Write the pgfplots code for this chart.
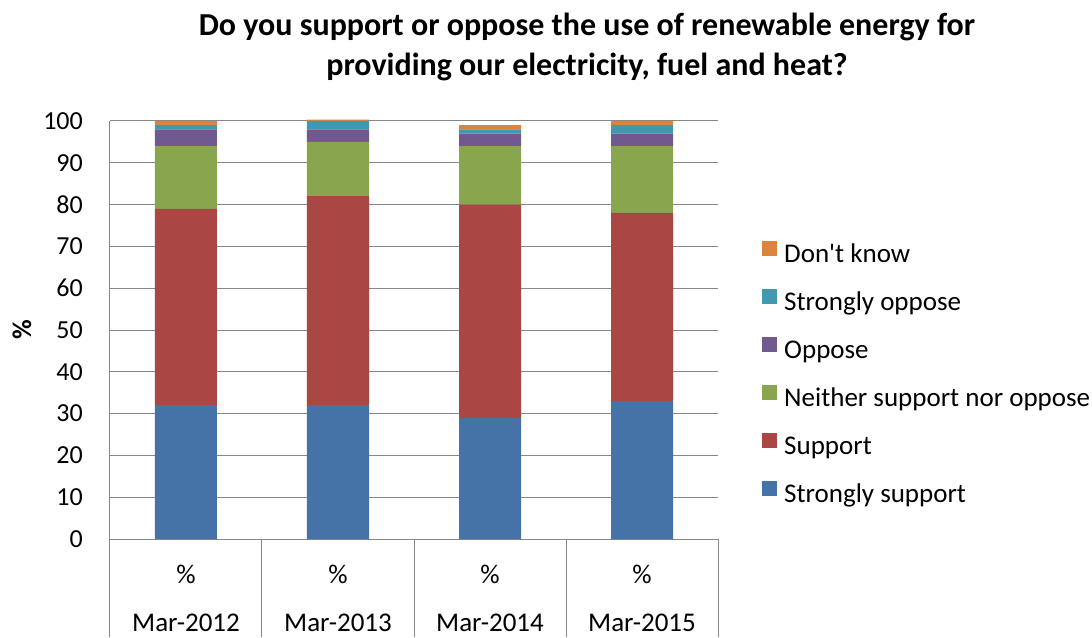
\documentclass[border=0pt]{standalone}
\usepackage{pgfplots}
\pgfplotsset{compat=1.18}
\usepackage{fontspec}
\setmainfont{Carlito}[Ligatures=TeXOff]
\definecolor{cSS}{HTML}{4572A7}
\definecolor{cS}{HTML}{AA4643}
\definecolor{cN}{HTML}{89A54E}
\definecolor{cO}{HTML}{71588F}
\definecolor{cSO}{HTML}{4198AF}
\definecolor{cDK}{HTML}{DB843D}
\definecolor{gridc}{HTML}{878787}
\newcommand{\fs}{\fontsize{27}{32}\selectfont}
\newcommand{\ft}{\fontsize{26}{30}\selectfont}
\begin{document}
\begin{tikzpicture}
\begin{axis}[
  scale only axis, width=608pt, height=418pt,
  ybar stacked, bar width=62pt,
  xmin=-0.5, xmax=3.5, ymin=0, ymax=100,
  xtick=\empty, ytick={0,10,...,100},
  ymajorgrids, grid style={draw=gridc, line width=1pt},
  axis x line*=bottom, axis y line*=left,
  axis line style={draw=gridc, line width=1pt, -},
  major tick length=0pt,
  yticklabel style={font=\ft, anchor=east, inner sep=0pt, xshift=-27pt},
  /pgf/number format/assume math mode=true,
  clip=false,
  title={Do you support or oppose the use of renewable energy for\\providing our electricity, fuel and heat?},
  title style={font=\fontsize{32}{40}\selectfont\bfseries, align=center, at={(axis description cs:0.7845,1.1627)}, anchor=center},
  ylabel={\textbf{\%}},
  ylabel style={font=\fs, at={(axis description cs:-0.1447,0.5)}, anchor=center},
  legend style={at={(axis description cs:1.0724,0.0718)}, anchor=south west, draw=none, fill=none, inner sep=0pt, row sep=20pt, column sep=0pt, font=\fs,
     nodes={inner sep=0pt, text height=18pt, text depth=6pt}},
  legend cell align=left,
  legend image code/.code={\fill[#1] (0pt,1pt) rectangle (15pt,16pt); \path (22pt,0pt);},
  reverse legend,
]
\addplot[fill=cSS, draw=none] coordinates {(0,32) (1,32) (2,29) (3,33)};
\addplot[fill=cS, draw=none] coordinates {(0,47) (1,50) (2,51) (3,45)};
\addplot[fill=cN, draw=none] coordinates {(0,15) (1,13) (2,14) (3,16)};
\addplot[fill=cO, draw=none] coordinates {(0,4) (1,3) (2,3) (3,3)};
\addplot[fill=cSO, draw=none] coordinates {(0,1) (1,2) (2,1) (3,2)};
\addplot[fill=cDK, draw=none] coordinates {(0,1) (1,0.3) (2,1) (3,1)};
\legend{Strongly support, Support, Neither support nor oppose, Oppose, Strongly oppose, Don't know}
\draw[gridc, line width=1pt] (axis cs:-0.5,0) -- ++(0pt,-98pt);
\draw[gridc, line width=1pt] (axis cs:0.5,0) -- ++(0pt,-98pt);
\draw[gridc, line width=1pt] (axis cs:1.5,0) -- ++(0pt,-98pt);
\draw[gridc, line width=1pt] (axis cs:2.5,0) -- ++(0pt,-98pt);
\draw[gridc, line width=1pt] (axis cs:3.5,0) -- ++(0pt,-98pt);
\node[font=\fs, anchor=base, yshift=-44.5pt] at (axis cs:0,0) {\%};
\node[font=\fs, anchor=base, yshift=-44.5pt] at (axis cs:1,0) {\%};
\node[font=\fs, anchor=base, yshift=-44.5pt] at (axis cs:2,0) {\%};
\node[font=\fs, anchor=base, yshift=-44.5pt] at (axis cs:3,0) {\%};
\node[font=\fs, anchor=base, yshift=-92.5pt] at (axis cs:0,0) {Mar-2012};
\node[font=\fs, anchor=base, yshift=-92.5pt] at (axis cs:1,0) {Mar-2013};
\node[font=\fs, anchor=base, yshift=-92.5pt] at (axis cs:2,0) {Mar-2014};
\node[font=\fs, anchor=base, yshift=-92.5pt] at (axis cs:3,0) {Mar-2015};
\end{axis}
\path[use as bounding box] (-110pt,-98pt) rectangle (982pt,539pt);
\end{tikzpicture}
\end{document}
